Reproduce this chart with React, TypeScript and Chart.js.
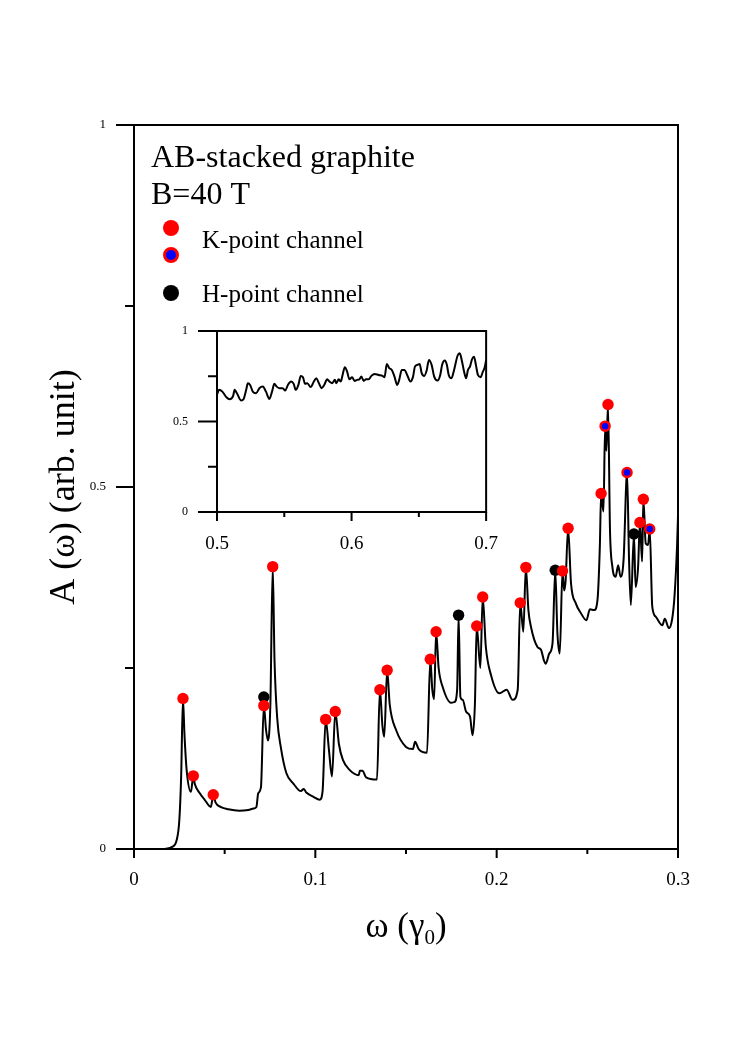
import React, { useEffect, useRef } from 'react';
import { Chart, registerables } from 'chart.js';

Chart.register(...registerables);

const SERIF = '"Liberation Serif", "Times New Roman", serif';

// ---- main spectrum A(omega) ----
const curveX = [0, 0.015, 0.021, 0.0235, 0.025, 0.026, 0.027, 0.0278, 0.029, 0.0314, 0.0327, 0.0335, 0.036, 0.039, 0.0424, 0.0437, 0.045, 0.048, 0.052, 0.058, 0.063, 0.066, 0.0675, 0.0685, 0.07, 0.0716, 0.0728, 0.0739, 0.0752, 0.0765, 0.0775, 0.079, 0.081, 0.084, 0.088, 0.092, 0.0936, 0.095, 0.099, 0.1024, 0.104, 0.1057, 0.1075, 0.1092, 0.111, 0.113, 0.1152, 0.119, 0.124, 0.1245, 0.126, 0.128, 0.134, 0.1356, 0.137, 0.138, 0.1396, 0.141, 0.1446, 0.15, 0.1538, 0.155, 0.157, 0.1616, 0.1634, 0.1645, 0.1655, 0.1666, 0.168, 0.1702, 0.1748, 0.1767, 0.1782, 0.179, 0.18, 0.1813, 0.1831, 0.1853, 0.1867, 0.188, 0.189, 0.191, 0.1923, 0.194, 0.1969, 0.2015, 0.2055, 0.2088, 0.2116, 0.213, 0.2147, 0.2161, 0.2175, 0.2189, 0.2225, 0.2245, 0.226, 0.2271, 0.229, 0.2308, 0.2323, 0.2335, 0.2348, 0.2363, 0.2372, 0.238, 0.2394, 0.241, 0.2437, 0.2464, 0.2495, 0.2514, 0.2538, 0.2556, 0.2569, 0.2576, 0.2589, 0.2598, 0.2605, 0.2614, 0.2625, 0.2638, 0.2656, 0.267, 0.2683, 0.27, 0.2719, 0.273, 0.274, 0.2757, 0.2766, 0.278, 0.279, 0.2802, 0.2809, 0.2822, 0.2835, 0.2844, 0.2858, 0.2877, 0.2914, 0.2927, 0.295, 0.2968, 0.2981, 0.2995, 0.3];
const curveY = [0, 0, 0.003, 0.012, 0.04, 0.1, 0.208, 0.16, 0.11, 0.079, 0.101, 0.09, 0.078, 0.068, 0.058, 0.075, 0.064, 0.058, 0.055, 0.053, 0.054, 0.056, 0.058, 0.077, 0.085, 0.198, 0.165, 0.15, 0.2, 0.39, 0.26, 0.18, 0.14, 0.105, 0.09, 0.08, 0.083, 0.078, 0.072, 0.068, 0.08, 0.179, 0.137, 0.1, 0.19, 0.145, 0.123, 0.109, 0.102, 0.108, 0.108, 0.099, 0.096, 0.22, 0.17, 0.155, 0.247, 0.2, 0.164, 0.141, 0.138, 0.148, 0.138, 0.133, 0.262, 0.22, 0.207, 0.3, 0.25, 0.224, 0.202, 0.203, 0.22, 0.323, 0.21, 0.206, 0.19, 0.183, 0.157, 0.2, 0.308, 0.25, 0.348, 0.28, 0.24, 0.215, 0.22, 0.206, 0.22, 0.34, 0.3, 0.389, 0.33, 0.307, 0.279, 0.275, 0.261, 0.256, 0.27, 0.284, 0.385, 0.298, 0.27, 0.384, 0.357, 0.37, 0.443, 0.367, 0.339, 0.326, 0.316, 0.331, 0.33, 0.344, 0.418, 0.491, 0.466, 0.584, 0.55, 0.614, 0.44, 0.39, 0.376, 0.392, 0.376, 0.4, 0.52, 0.4, 0.337, 0.435, 0.362, 0.39, 0.451, 0.397, 0.483, 0.422, 0.42, 0.442, 0.335, 0.321, 0.309, 0.318, 0.305, 0.318, 0.35, 0.42, 0.46];

// K-point channel peaks (red)
const kRedX = [0.027, 0.0327, 0.0437, 0.0716, 0.0765, 0.1057, 0.111, 0.1356, 0.1396, 0.1634, 0.1666, 0.189, 0.1923, 0.213, 0.2161, 0.2363, 0.2394, 0.2576, 0.2614, 0.279, 0.2809];
const kRedY = [0.208, 0.101, 0.075, 0.198, 0.39, 0.179, 0.19, 0.22, 0.247, 0.262, 0.3, 0.308, 0.348, 0.34, 0.389, 0.384, 0.443, 0.491, 0.614, 0.451, 0.483];
// K-point channel peaks (red ring, blue centre)
const kBlueX = [0.2598, 0.2719, 0.2844];
const kBlueY = [0.584, 0.52, 0.442];
// H-point channel peaks (black)
const hX = [0.0716, 0.179, 0.2323, 0.2757];
const hY = [0.21, 0.323, 0.385, 0.435];

const mainXTickLabels = ['0', '0.1', '0.2', '0.3'];
const mainYTickLabels = ['0', '0.5', '1'];

// ---- inset (higher frequency) ----
const insetX = [0.5, 0.5015, 0.504, 0.507, 0.5094, 0.512, 0.5131, 0.5148, 0.518, 0.5197, 0.5217, 0.5229, 0.5246, 0.5266, 0.529, 0.5315, 0.534, 0.5364, 0.5389, 0.5409, 0.5426, 0.5443, 0.5463, 0.5488, 0.5507, 0.5527, 0.555, 0.557, 0.5585, 0.5605, 0.5622, 0.5639, 0.5654, 0.5671, 0.5696, 0.572, 0.5738, 0.5757, 0.5777, 0.5797, 0.5819, 0.5836, 0.5856, 0.5876, 0.5886, 0.5905, 0.592, 0.5935, 0.595, 0.5967, 0.5984, 0.6004, 0.6023, 0.6041, 0.6058, 0.6073, 0.609, 0.6107, 0.6127, 0.6147, 0.6171, 0.6201, 0.623, 0.6245, 0.6262, 0.628, 0.6299, 0.6319, 0.6339, 0.6354, 0.6373, 0.6393, 0.6413, 0.6437, 0.6457, 0.6471, 0.6491, 0.6506, 0.6521, 0.654, 0.6558, 0.6575, 0.6595, 0.6614, 0.6639, 0.6659, 0.6673, 0.6693, 0.6708, 0.6722, 0.6742, 0.6762, 0.6787, 0.6804, 0.6821, 0.6836, 0.6851, 0.6865, 0.688, 0.6895, 0.691, 0.6924, 0.6939, 0.6959, 0.6976, 0.6988, 0.7];
const insetY = [0.647, 0.675, 0.665, 0.634, 0.623, 0.641, 0.675, 0.656, 0.616, 0.623, 0.675, 0.711, 0.702, 0.665, 0.656, 0.684, 0.693, 0.665, 0.625, 0.665, 0.708, 0.693, 0.684, 0.684, 0.671, 0.702, 0.721, 0.708, 0.675, 0.702, 0.752, 0.745, 0.708, 0.712, 0.69, 0.721, 0.739, 0.712, 0.684, 0.702, 0.733, 0.721, 0.712, 0.73, 0.712, 0.733, 0.721, 0.763, 0.8, 0.776, 0.733, 0.745, 0.724, 0.73, 0.733, 0.748, 0.724, 0.733, 0.733, 0.752, 0.763, 0.757, 0.752, 0.745, 0.818, 0.795, 0.785, 0.748, 0.702, 0.73, 0.785, 0.785, 0.757, 0.721, 0.748, 0.803, 0.813, 0.818, 0.767, 0.752, 0.782, 0.84, 0.813, 0.748, 0.726, 0.757, 0.813, 0.837, 0.813, 0.757, 0.739, 0.785, 0.862, 0.877, 0.831, 0.776, 0.739, 0.785, 0.803, 0.843, 0.858, 0.813, 0.757, 0.745, 0.776, 0.795, 0.84];

const insetXTickLabels = ['0.5', '0.6', '0.7'];
const insetYTickLabels = ['0', '0.5', '1'];

// ---- text ----
const annotationLines = ['AB-stacked graphite', 'B=40 T'];
const legendK = 'K-point channel';
const legendH = 'H-point channel';
const yTitle = 'A (\u03c9) (arb. unit)';
const xTitleMain = '\u03c9 (\u03b3';
const xTitleSub = '0';
const xTitleEnd = ')';

const pts = (xs: number[], ys: number[]) => xs.map((x, i) => ({ x, y: ys[i] }));

const labelFrom = (labels: string[]) => (v: number | string) => {
  const n = Number(v);
  const hit = labels.find((l) => Math.abs(Number(l) - n) < 1e-6);
  return hit !== undefined ? hit : '';
};

const axisMarks = {
  id: 'axisMarks',
  afterDraw(chart: any, _args: any, opts: any) {
    const { ctx, chartArea: a } = chart;
    const xs = chart.scales.x;
    const ys = chart.scales.y;
    ctx.save();
    ctx.strokeStyle = '#000';
    ctx.lineWidth = opts.lineWidth;
    ctx.lineCap = 'square';
    ctx.strokeRect(a.left, a.top, a.right - a.left, a.bottom - a.top);
    ctx.lineCap = 'butt';
    ctx.beginPath();
    xs.ticks.forEach((t: any) => {
      const px = xs.getPixelForValue(t.value);
      const len = t.label !== '' ? opts.xMajor : opts.xMinor;
      ctx.moveTo(px, a.bottom);
      ctx.lineTo(px, a.bottom + len);
    });
    ys.ticks.forEach((t: any) => {
      const py = ys.getPixelForValue(t.value);
      const len = t.label !== '' ? opts.yMajor : opts.yMinor;
      ctx.moveTo(a.left - len, py);
      ctx.lineTo(a.left, py);
    });
    ctx.stroke();
    ctx.restore();
  },
};

const mainText = {
  id: 'mainText',
  afterDraw(chart: any) {
    const { ctx, chartArea: a } = chart;
    ctx.save();
    ctx.fillStyle = '#000';
    ctx.textBaseline = 'alphabetic';
    ctx.textAlign = 'left';
    ctx.font = `32px ${SERIF}`;
    ctx.fillText(annotationLines[0], 151, 167);
    ctx.fillText(annotationLines[1], 151, 204);

    // legend markers
    const dot = (x: number, y: number, r: number, fill: string, stroke?: string, lw?: number) => {
      ctx.beginPath();
      ctx.arc(x, y, r, 0, Math.PI * 2);
      ctx.fillStyle = fill;
      ctx.fill();
      if (stroke) {
        ctx.lineWidth = lw || 1;
        ctx.strokeStyle = stroke;
        ctx.stroke();
      }
    };
    dot(171, 228, 8, '#ff0000');
    dot(171, 255, 6.5, '#0000ff', '#ff0000', 3);
    dot(171, 293, 8, '#000000');
    ctx.fillStyle = '#000';
    ctx.font = `25px ${SERIF}`;
    ctx.fillText(legendK, 202, 248);
    ctx.fillText(legendH, 202, 302);

    // x title with subscript
    const big = `35px ${SERIF}`;
    const small = `21px ${SERIF}`;
    ctx.font = big;
    const w1 = ctx.measureText(xTitleMain).width;
    const w3 = ctx.measureText(xTitleEnd).width;
    ctx.font = small;
    const w2 = ctx.measureText(xTitleSub).width;
    const cx = (a.left + a.right) / 2;
    let x0 = cx - (w1 + w2 + w3) / 2;
    ctx.font = big;
    ctx.fillText(xTitleMain, x0, 937);
    x0 += w1;
    ctx.font = small;
    ctx.fillText(xTitleSub, x0, 944);
    x0 += w2;
    ctx.font = big;
    ctx.fillText(xTitleEnd, x0, 937);

    // y title
    ctx.translate(74, (a.top + a.bottom) / 2);
    ctx.rotate(-Math.PI / 2);
    ctx.textAlign = 'center';
    ctx.font = `36px ${SERIF}`;
    ctx.fillText(yTitle, 0, 0);
    ctx.restore();
  },
};

function MainChart() {
  const ref = useRef<HTMLCanvasElement>(null);
  useEffect(() => {
    if (!ref.current) return;
    const chart = new Chart(ref.current, {
      type: 'scatter',
      data: {
        datasets: [
          {
            label: 'K red',
            data: pts(kRedX, kRedY),
            pointRadius: 5.7,
            pointHoverRadius: 5.7,
            backgroundColor: '#ff0000',
            borderWidth: 0,
            order: 1,
          },
          {
            label: 'K blue',
            data: pts(kBlueX, kBlueY),
            pointRadius: 4.5,
            pointHoverRadius: 4.5,
            backgroundColor: '#0000ff',
            borderColor: '#ff0000',
            borderWidth: 2.5,
            order: 2,
          },
          {
            label: 'H',
            data: pts(hX, hY),
            pointRadius: 5.7,
            pointHoverRadius: 5.7,
            backgroundColor: '#000000',
            borderWidth: 0,
            order: 3,
          },
          {
            label: 'A',
            data: pts(curveX, curveY),
            showLine: true,
            pointRadius: 0,
            borderColor: '#000000',
            borderWidth: 2,
            cubicInterpolationMode: 'monotone',
            order: 4,
          } as any,
        ],
      },
      options: {
        responsive: false,
        animation: false,
        events: [],
        layout: { padding: { top: 125, right: 70, left: 0, bottom: 0 } },
        plugins: {
          legend: { display: false },
          tooltip: { enabled: false },
          axisMarks: { lineWidth: 2, xMajor: 9, xMinor: 5, yMajor: 18, yMinor: 9 },
        } as any,
        scales: {
          x: {
            type: 'linear',
            min: 0,
            max: 0.3,
            border: { display: false },
            grid: { display: false, drawTicks: true, tickLength: 9 },
            ticks: {
              stepSize: 0.05,
              autoSkip: false,
              maxRotation: 0,
              padding: 11,
              color: '#000',
              font: { family: SERIF, size: 19 },
              callback: labelFrom(mainXTickLabels),
            },
            afterFit: (s: any) => {
              s.height = 1058 - 849;
            },
          },
          y: {
            type: 'linear',
            min: 0,
            max: 1,
            border: { display: false },
            grid: { display: false, drawTicks: true, tickLength: 18 },
            ticks: {
              stepSize: 0.25,
              autoSkip: false,
              padding: 10,
              color: '#000',
              font: { family: SERIF, size: 13 },
              callback: labelFrom(mainYTickLabels),
            },
            afterFit: (s: any) => {
              s.width = 134;
            },
          },
        },
      },
      plugins: [axisMarks, mainText],
    });
    return () => chart.destroy();
  }, []);
  return (
    <canvas
      ref={ref}
      width={748}
      height={1058}
      style={{ position: 'absolute', left: 0, top: 0, width: 748, height: 1058 }}
    />
  );
}

function InsetChart() {
  const ref = useRef<HTMLCanvasElement>(null);
  useEffect(() => {
    if (!ref.current) return;
    const chart = new Chart(ref.current, {
      type: 'scatter',
      data: {
        datasets: [
          {
            label: 'inset',
            data: pts(insetX, insetY),
            showLine: true,
            pointRadius: 0,
            borderColor: '#000000',
            borderWidth: 2,
            cubicInterpolationMode: 'monotone',
          } as any,
        ],
      },
      options: {
        responsive: false,
        animation: false,
        events: [],
        layout: { padding: { top: 31, right: 20, left: 0, bottom: 0 } },
        plugins: {
          legend: { display: false },
          tooltip: { enabled: false },
          axisMarks: { lineWidth: 2, xMajor: 9, xMinor: 5, yMajor: 19, yMinor: 9 },
        } as any,
        scales: {
          x: {
            type: 'linear',
            min: 0.5,
            max: 0.7,
            border: { display: false },
            grid: { display: false, drawTicks: true, tickLength: 9 },
            ticks: {
              stepSize: 0.05,
              autoSkip: false,
              maxRotation: 0,
              padding: 12,
              color: '#000',
              font: { family: SERIF, size: 19 },
              callback: labelFrom(insetXTickLabels),
            },
            afterFit: (s: any) => {
              s.height = 58;
            },
          },
          y: {
            type: 'linear',
            min: 0,
            max: 1,
            border: { display: false },
            grid: { display: false, drawTicks: true, tickLength: 19 },
            ticks: {
              stepSize: 0.25,
              autoSkip: false,
              padding: 10,
              color: '#000',
              font: { family: SERIF, size: 12 },
              callback: labelFrom(insetYTickLabels),
            },
            afterFit: (s: any) => {
              s.width = 67;
            },
          },
        },
      },
      plugins: [axisMarks],
    });
    return () => chart.destroy();
  }, []);
  return (
    <canvas
      ref={ref}
      width={360}
      height={270}
      style={{ position: 'absolute', left: 150, top: 300, width: 360, height: 270 }}
    />
  );
}

export default function App() {
  return (
    <div style={{ position: 'absolute', left: 0, top: 0, width: 748, height: 1058, background: '#fff' }}>
      <MainChart />
      <InsetChart />
    </div>
  );
}
